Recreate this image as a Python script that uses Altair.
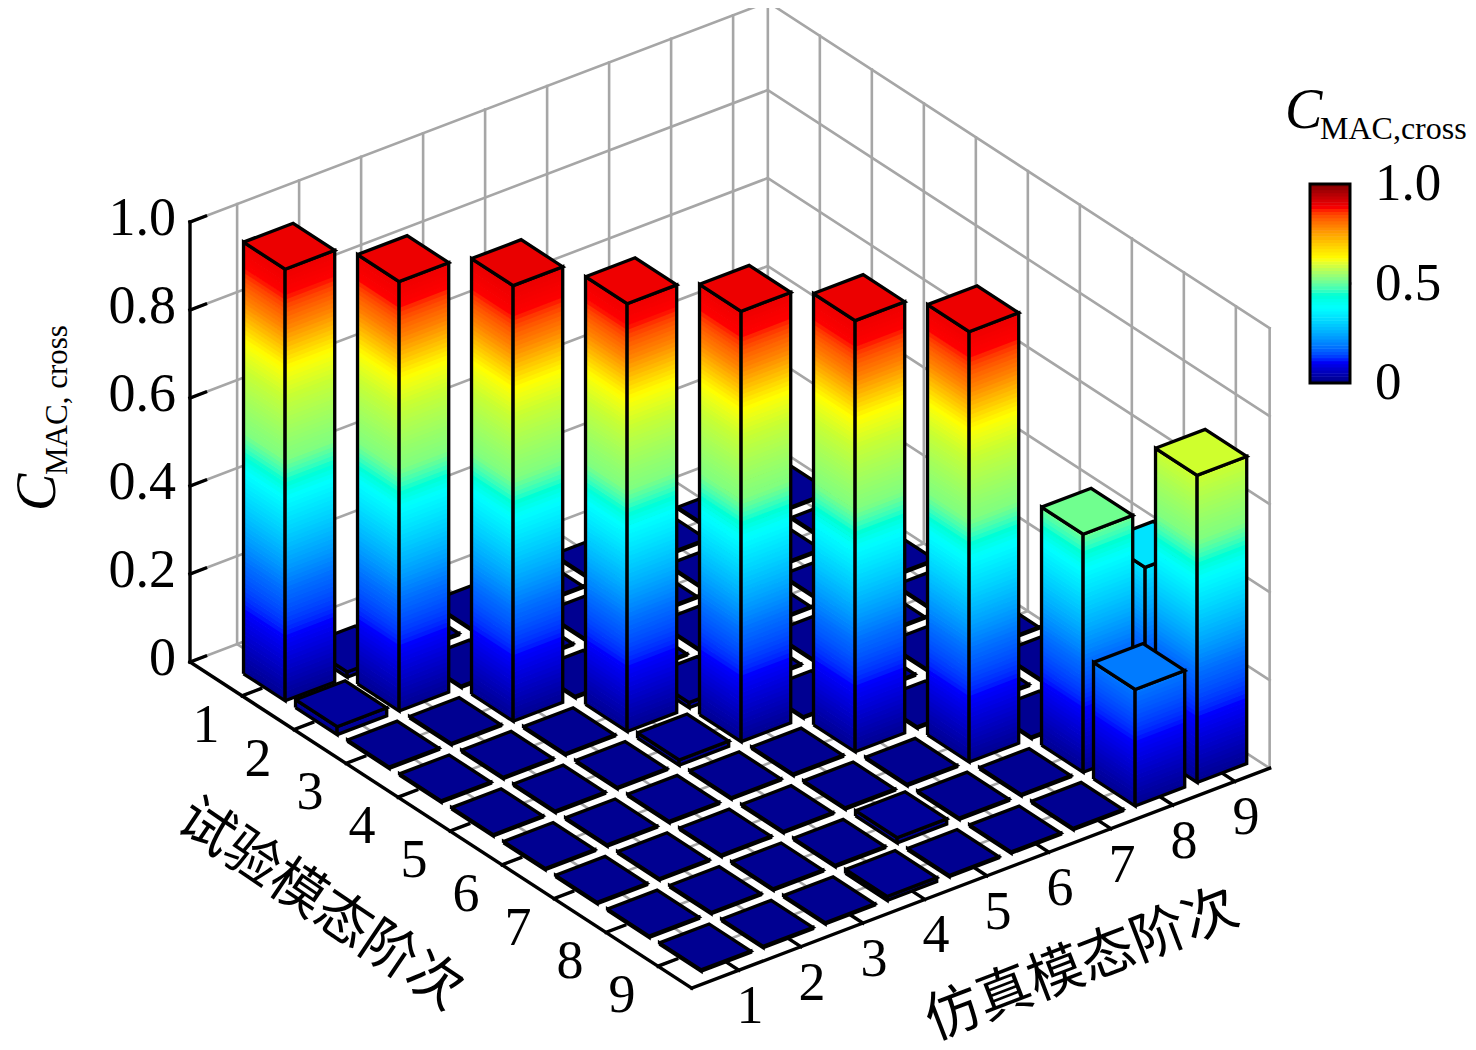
import math
import altair as alt
import pandas as pd

alt.data_transformers.disable_max_rows()

# Cross-MAC values: rows = test mode 1..9, columns = simulation mode 1..9
ROW1 = [0.981, 0.012, 0.003, 0.003, 0.003, 0.003, 0.003, 0.003, 0.003]
ROW2 = [0.018, 0.976, 0.003, 0.003, 0.003, 0.003, 0.003, 0.003, 0.003]
ROW3 = [0.003, 0.003, 0.990, 0.003, 0.003, 0.003, 0.003, 0.003, 0.003]
ROW4 = [0.003, 0.003, 0.003, 0.972, 0.012, 0.003, 0.003, 0.003, 0.003]
ROW5 = [0.003, 0.003, 0.003, 0.012, 0.978, 0.003, 0.003, 0.003, 0.003]
ROW6 = [0.003, 0.003, 0.003, 0.003, 0.003, 0.980, 0.003, 0.003, 0.003]
ROW7 = [0.003, 0.003, 0.003, 0.003, 0.003, 0.003, 0.978, 0.003, 0.003]
ROW8 = [0.003, 0.003, 0.003, 0.003, 0.012, 0.003, 0.003, 0.541, 0.412]
ROW9 = [0.003, 0.003, 0.003, 0.009, 0.003, 0.003, 0.003, 0.265, 0.698]
MAC = [ROW1, ROW2, ROW3, ROW4, ROW5, ROW6, ROW7, ROW8, ROW9]
Z_TICKS = [0, 0.2, 0.4, 0.6, 0.8, 1.0]
Z_LABELS = ["0", "0.2", "0.4", "0.6", "0.8", "1.0"]
MODES = [1, 2, 3, 4, 5, 6, 7, 8, 9]
BAR_STOPS = [0, 0.146, 0.25, 0.46, 0.55, 0.69, 0.755, 0.85, 0.92, 1.0]
BAR_COLORS = ["#00008f", "#0000ff", "#006eff", "#00ffff", "#80ff80", "#c8ff32",
              "#ffff00", "#ff8000", "#ff0000", "#e60000"]
JET_STOPS = [0, 0.11, 0.375, 0.625, 0.875, 1.0]
JET_COLORS = ["#000080", "#0000ff", "#00ffff", "#ffff00", "#ff0000", "#800000"]
CBAR_LABELS = ["0", "0.5", "1.0"]
CBAR_VALUES = [0, 0.5, 1.0]

SERIF = "Liberation Serif"
CJK = "Noto Sans CJK SC"

# 3-D axes, projected orthographically to the picture
TMIN, TMAX, SMIN, SMAX = 0.0, 9.65, 0.24, 9.56
HALF = 0.4


def P(t, s, z):
    return (190 + 52 * (t - TMIN) + 62 * (s - SMIN),
            662 + 33.8 * (t - TMIN) - 23.6 * (s - SMIN) - 440 * z)


# ---------- polygons, painted back to front ----------
poly = []
pid = [0]


def add_poly(pts, kind, z=0.0):
    pid[0] += 1
    for k, (x, y) in enumerate(pts):
        poly.append({"x": round(x, 2), "y": round(y, 2), "k": k, "pid": pid[0], "kind": kind, "z": z})


for ti in range(1, 10):
    for si in range(9, 0, -1):
        h = MAC[ti - 1][si - 1]
        t0, t1, s0, s1 = ti - HALF, ti + HALF, si - HALF, si + HALF
        n = max(1, int(math.ceil(h / 0.01)))
        for face in (((t0, s0), (t1, s0)), ((t1, s0), (t1, s1))):
            (a, b), (c, d) = face
            for i in range(n):
                z0 = h * i / n
                z1 = min(h, h * (i + 1) / n + 0.002)
                add_poly([P(a, b, z0), P(c, d, z0), P(c, d, z1), P(a, b, z1)], "f", (z0 + h * (i + 1) / n) / 2)
            add_poly([P(a, b, 0), P(c, d, 0), P(c, d, h), P(a, b, h), P(a, b, 0)], "e")
        top = [P(t0, s0, h), P(t1, s0, h), P(t1, s1, h), P(t0, s1, h), P(t0, s0, h)]
        add_poly(top, "f", h)
        add_poly(top, "e")

poly_df = pd.DataFrame(poly)

# ---------- grid, walls and axes ----------
lines = []
lid = [0]
GREY, BLACK = "#a6a6a6", "#000000"


def add_line(a, b, c, w):
    lid[0] += 1
    for k, p in enumerate((a, b)):
        lines.append({"x": p[0], "y": p[1], "k": k, "lid": lid[0], "c": c, "w": w})


for v in MODES:
    add_line(P(v, SMIN, 0), P(v, SMAX, 0), GREY, 2.6)
    add_line(P(TMIN, v, 0), P(TMAX, v, 0), GREY, 2.6)
    add_line(P(TMIN, v, 0), P(TMIN, v, 1), GREY, 2.6)
    add_line(P(v, SMAX, 0), P(v, SMAX, 1), GREY, 2.6)
for z in Z_TICKS:
    add_line(P(TMIN, SMIN, z), P(TMIN, SMAX, z), GREY, 2.6)
    add_line(P(TMIN, SMAX, z), P(TMAX, SMAX, z), GREY, 2.6)
add_line(P(TMIN, SMAX, 0), P(TMIN, SMAX, 1), GREY, 2.6)
add_line(P(TMAX, SMAX, 0), P(TMAX, SMAX, 1), GREY, 2.6)
for v in MODES:
    add_line(P(v, SMIN, 0), P(v, SMIN + 0.3, 0), BLACK, 3.4)
    add_line(P(TMAX, v, 0), P(TMAX - 0.3, v, 0), BLACK, 3.4)
for z in Z_TICKS:
    add_line(P(TMIN, SMIN, z), P(TMIN, SMIN + 0.25, z), BLACK, 3.4)
add_line(P(TMIN, SMIN, 0), P(TMIN, SMIN, 1), BLACK, 3.4)
add_line(P(TMIN, SMIN, 0), P(TMAX, SMIN, 0), BLACK, 3.4)
add_line(P(TMAX, SMIN, 0), P(TMAX, SMAX, 0), BLACK, 3.4)
# colour-bar tick and frame
CB_X0, CB_X1, CB_Y0, CB_H = 1310, 1350, 383, 199
add_line((CB_X1 - 6, CB_Y0 - CB_H * 0.5), (CB_X1, CB_Y0 - CB_H * 0.5), BLACK, 2.5)
lines_df = pd.DataFrame(lines)

x_scale = alt.Scale(domain=[8, 1468], range=[0, 1460], nice=False, zero=False)
y_scale = alt.Scale(domain=[1042, 8], range=[1034, 0], nice=False, zero=False)
X = alt.X("x:Q", scale=x_scale, axis=None)
Y = alt.Y("y:Q", scale=y_scale, axis=None)

line_layer = alt.Chart(lines_df).mark_line(strokeCap="square").encode(
    x=X, y=Y, detail="lid:N", order="k:Q",
    stroke=alt.Stroke("c:N", scale=None),
    strokeWidth=alt.StrokeWidth("w:Q", scale=None),
)

bar_layer = alt.Chart(poly_df).mark_line(strokeWidth=3.3, strokeJoin="miter").encode(
    x=X, y=Y, detail="pid:N", order="k:Q",
    fill=alt.condition(
        "datum.kind == 'f'",
        alt.Fill("z:Q", scale=alt.Scale(domain=BAR_STOPS, range=BAR_COLORS), legend=None),
        alt.value("transparent"),
    ),
    stroke=alt.condition("datum.kind == 'e'", alt.value("#000000"), alt.value("transparent")),
)

# ---------- colour bar ----------
N = 64
cbar_df = pd.DataFrame([
    {"x": CB_X0, "x2": CB_X1, "y": CB_Y0 - CB_H * i / N, "y2": CB_Y0 - CB_H * (i + 1) / N - 0.5, "v": (i + 0.5) / N}
    for i in range(N)
])
cbar_layer = alt.Chart(cbar_df).mark_rect().encode(
    x=X, x2="x2:Q", y=Y, y2="y2:Q",
    fill=alt.Fill("v:Q", scale=alt.Scale(domain=JET_STOPS, range=JET_COLORS), legend=None),
)
frame_df = pd.DataFrame([{"x": CB_X0, "x2": CB_X1, "y": CB_Y0, "y2": CB_Y0 - CB_H}])
frame_layer = alt.Chart(frame_df).mark_rect(fillOpacity=0, stroke="#000000", strokeWidth=3).encode(
    x=X, x2="x2:Q", y=Y, y2="y2:Q",
)

# ---------- text ----------
num_rows = []
for m in MODES:
    px, py = P(m, SMIN, 0)
    num_rows.append({"x": px - 36, "y": py + 30, "label": str(m)})
    px, py = P(TMAX, m, 0)
    num_rows.append({"x": px + 11, "y": py + 37, "label": str(m)})
num_layer = alt.Chart(pd.DataFrame(num_rows)).mark_text(
    font=SERIF, fontSize=54, align="center", baseline="middle", color="#000000"
).encode(x=X, y=Y, text="label:N")

z_rows = []
for z, lab in zip(Z_TICKS, Z_LABELS):
    px, py = P(TMIN, SMIN, z)
    z_rows.append({"x": px - 14, "y": py - 3, "label": lab})
z_layer = alt.Chart(pd.DataFrame(z_rows)).mark_text(
    font=SERIF, fontSize=54, align="right", baseline="middle", color="#000000"
).encode(x=X, y=Y, text="label:N")

cb_rows = [{"x": 1375, "y": CB_Y0 - CB_H * v, "label": lab} for v, lab in zip(CBAR_VALUES, CBAR_LABELS)]
cb_text = alt.Chart(pd.DataFrame(cb_rows)).mark_text(
    font=SERIF, fontSize=53, align="left", baseline="middle", color="#000000"
).encode(x=X, y=Y, text="label:N")

t1 = alt.Chart(pd.DataFrame([{"x": 320, "y": 905, "label": "试验模态阶次"}])).mark_text(
    font=CJK, fontSize=55, angle=34, align="center", baseline="middle", color="#000000"
).encode(x=X, y=Y, text="label:N")
t2 = alt.Chart(pd.DataFrame([{"x": 1082, "y": 965, "label": "仿真模态阶次"}])).mark_text(
    font=CJK, fontSize=55, angle=339, align="center", baseline="middle", color="#000000"
).encode(x=X, y=Y, text="label:N")

c_right = alt.Chart(pd.DataFrame([{"x": 1285, "y": 128, "label": "C"}])).mark_text(
    font=SERIF, fontStyle="italic", fontSize=56, align="left", baseline="alphabetic", color="#000000"
).encode(x=X, y=Y, text="label:N")
sub_right = alt.Chart(pd.DataFrame([{"x": 1320, "y": 139, "label": "MAC,cross"}])).mark_text(
    font=SERIF, fontSize=32, align="left", baseline="alphabetic", color="#000000"
).encode(x=X, y=Y, text="label:N")
c_left = alt.Chart(pd.DataFrame([{"x": 55, "y": 511, "label": "C"}])).mark_text(
    font=SERIF, fontStyle="italic", fontSize=56, angle=270, align="left", baseline="alphabetic", color="#000000"
).encode(x=X, y=Y, text="label:N")
sub_left = alt.Chart(pd.DataFrame([{"x": 67, "y": 475, "label": "MAC, cross"}])).mark_text(
    font=SERIF, fontSize=31, angle=270, align="left", baseline="alphabetic", color="#000000"
).encode(x=X, y=Y, text="label:N")

chart = alt.layer(
    line_layer, bar_layer, cbar_layer, frame_layer,
    num_layer, z_layer, cb_text, t1, t2, c_right, sub_right, c_left, sub_left,
).resolve_scale(fill="independent").properties(
    width=1460, height=1034, padding=0, autosize=alt.AutoSizeParams(type="none"), background="white"
).configure_view(stroke=None)

chart.save("out.html", embed_options={"renderer": "svg", "actions": False})
